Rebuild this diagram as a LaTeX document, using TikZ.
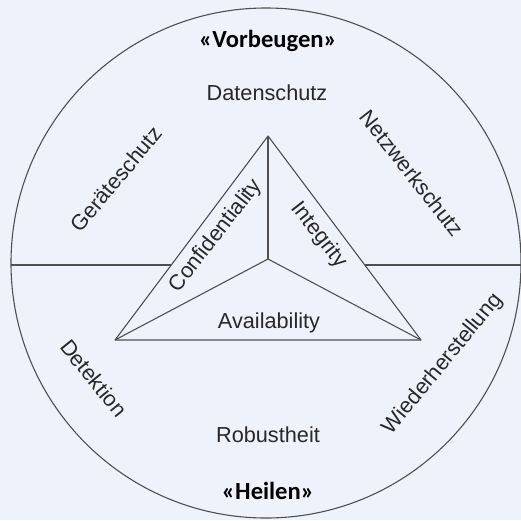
\documentclass[tikz,border=0pt]{standalone}
\usepackage{fontspec}
\setmainfont{Liberation Sans}
\newfontfamily\headfont{Carlito}
\definecolor{bgc}{RGB}{238,242,250}
\definecolor{linec}{RGB}{80,80,80}
\definecolor{txtc}{RGB}{40,40,40}
\begin{document}
\begin{tikzpicture}[x=1pt,y=-1pt,
  lbl/.style={text=txtc,inner sep=0pt,font=\fontsize{21.7}{25}\selectfont},
  head/.style={text=black,inner sep=0pt,anchor=base,font=\headfont\bfseries\fontsize{24.6}{28}\selectfont},
  edge/.style={draw=linec,line width=1.1pt,line join=round}]
\fill[bgc] (0,0) rectangle (521,520);
\useasboundingbox (0,0) rectangle (521,520);
% circle and horizontal divider
\coordinate (C) at (266,263);
\draw[edge] (C) circle[radius=255];
\coordinate (hl) at (11,265);
\coordinate (hr) at (521,265);
\draw[edge] (hl) -- (hr);
% triangle
\coordinate (T) at (268,136);
\coordinate (BL) at (115,340);
\coordinate (BR) at (421,340);
\coordinate (M) at (268,259);
\filldraw[edge,fill=bgc] (T) -- (BL) -- (BR) -- cycle;
\draw[edge] (M) -- (T);
\draw[edge] (M) -- (BL);
\draw[edge] (M) -- (BR);
% headings
\node[head] (vor) at (268,47) {«Vorbeugen»};
\node[head] (hei) at (268,499) {«Heilen»};
% outer labels
\node[lbl,anchor=base] (dat) at (267,100) {Datenschutz};
\node[lbl,anchor=base] (rob) at (268,442) {Robustheit};
\node[lbl,rotate=50] (ger) at (116,179) {Geräteschutz};
\node[lbl,rotate=-52] (net) at (412,173) {Netzwerkschutz};
\node[lbl,rotate=-51] (det) at (94,378) {Detektion};
\node[lbl,rotate=50.5] (wie) at (443,364) {Wiederherstellung};
% inner labels
\node[lbl,rotate=52] (con) at (216,236) {Confidentiality};
\node[lbl,rotate=-52] (int) at (319,235) {Integrity};
\node[lbl,anchor=base] (ava) at (269,328) {Availability};
\end{tikzpicture}
\end{document}
